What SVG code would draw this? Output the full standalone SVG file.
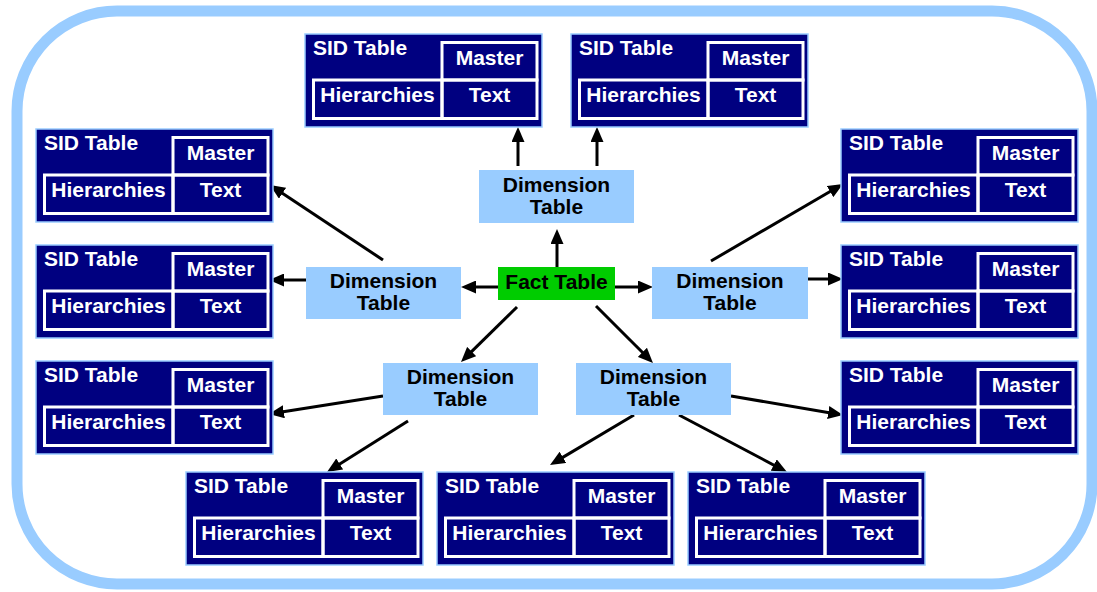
<svg xmlns="http://www.w3.org/2000/svg" width="1097" height="592" viewBox="0 0 1097 592">
<style>
text{font-family:"Liberation Sans",Arial,sans-serif;font-weight:bold;font-size:21px}
.sid{fill:#000080;stroke:#99CCFF;stroke-width:1.5}
.cell{fill:none;stroke:#FFFFFF;stroke-width:3}
.w{fill:#FFFFFF}
.dim{fill:#99CCFF}
.fact{fill:#00CC00}
.k{fill:#000000;text-anchor:middle}
.c{text-anchor:middle}
.conn{stroke:#000000;stroke-width:3;fill:none;marker-end:url(#ah)}
</style>
<defs>
<marker id="ah" markerUnits="userSpaceOnUse" markerWidth="15" markerHeight="13" viewBox="0 0 15 13" refX="7" refY="6.5" orient="auto">
<path d="M0,0 L15,6.5 L0,13 z" fill="#000000"/>
</marker>
<g id="sidT">
<rect class="sid" x="0" y="0" width="237" height="93"/>
<rect class="cell" x="137" y="8.5" width="95" height="37.5"/>
<rect class="cell" x="8.5" y="46" width="128.5" height="38.5"/>
<rect class="cell" x="137" y="46" width="95" height="38.5"/>
<text class="w" x="8" y="21">SID Table</text>
<text class="w c" x="184.5" y="31">Master</text>
<text class="w c" x="72.5" y="68">Hierarchies</text>
<text class="w c" x="184.5" y="68">Text</text>
</g>
</defs>
<rect x="0" y="0" width="1097" height="592" fill="#FFFFFF"/>
<rect x="17" y="11" width="1075" height="573" rx="100" ry="100" fill="none" stroke="#99CCFF" stroke-width="11"/>

<g id="connectors">
<path class="conn" d="M557,267 L557,237"/>
<path class="conn" d="M498,287 L469,287"/>
<path class="conn" d="M615,287 L645,287"/>
<path class="conn" d="M517,307 L466.7,356.4"/>
<path class="conn" d="M596,306 L647.3,357.3"/>
<path class="conn" d="M518,166 L518,135"/>
<path class="conn" d="M597,166 L597,135"/>
<path class="conn" d="M383,260 L276.7,189.4"/>
<path class="conn" d="M306,280 L277,280"/>
<path class="conn" d="M383,396 L276.9,412.8"/>
<path class="conn" d="M408,421 L333.8,467.7"/>
<path class="conn" d="M711,261 L836.1,188"/>
<path class="conn" d="M808,279 L835,279"/>
<path class="conn" d="M731,396 L835.1,413.7"/>
<path class="conn" d="M634,415 L556.9,460.9"/>
<path class="conn" d="M679,415 L779.9,468.3"/>
</g>

<g id="fact"><rect class="fact" x="498" y="267" width="117" height="33"/><text class="k" x="556.5" y="289">Fact Table</text></g>
<g id="dim-top"><rect class="dim" x="479" y="170" width="155" height="53"/><text class="k" x="556.5" y="192">Dimension</text><text class="k" x="556.5" y="214">Table</text></g>
<g id="dim-left"><rect class="dim" x="306" y="267" width="155" height="52"/><text class="k" x="383.5" y="288">Dimension</text><text class="k" x="383.5" y="310">Table</text></g>
<g id="dim-right"><rect class="dim" x="652" y="267" width="156" height="52"/><text class="k" x="730" y="288">Dimension</text><text class="k" x="730" y="310">Table</text></g>
<g id="dim-bl"><rect class="dim" x="383" y="363" width="155" height="52"/><text class="k" x="460.5" y="384">Dimension</text><text class="k" x="460.5" y="406">Table</text></g>
<g id="dim-br"><rect class="dim" x="576" y="363" width="155" height="52"/><text class="k" x="653.5" y="384">Dimension</text><text class="k" x="653.5" y="406">Table</text></g>

<g id="sid-t1"><use href="#sidT" x="305" y="34"/></g>
<g id="sid-t2"><use href="#sidT" x="571" y="34"/></g>
<g id="sid-l1"><use href="#sidT" x="36" y="129"/></g>
<g id="sid-l2"><use href="#sidT" x="36" y="245"/></g>
<g id="sid-l3"><use href="#sidT" x="36" y="361"/></g>
<g id="sid-r1"><use href="#sidT" x="841" y="129"/></g>
<g id="sid-r2"><use href="#sidT" x="841" y="245"/></g>
<g id="sid-r3"><use href="#sidT" x="841" y="361"/></g>
<g id="sid-b1"><use href="#sidT" x="186" y="472"/></g>
<g id="sid-b2"><use href="#sidT" x="437" y="472"/></g>
<g id="sid-b3"><use href="#sidT" x="688" y="472"/></g>
</svg>
